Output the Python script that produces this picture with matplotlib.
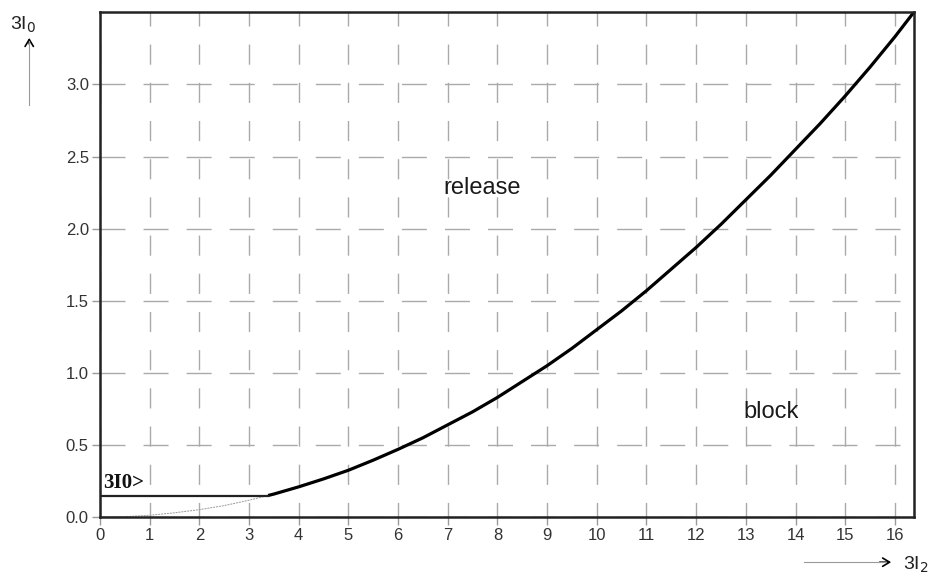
import matplotlib

matplotlib.use("Agg")
import matplotlib.pyplot as plt
from matplotlib.lines import Line2D
from matplotlib.patches import FancyArrowPatch

plt.rcParams["font.family"] = ["Liberation Sans", "DejaVu Sans"]

# characteristic curve (3I2 -> 3I0)
curve_x = [0, 0.5, 1, 1.5, 2, 2.5, 3, 3.5, 4, 4.5, 5, 5.5, 6, 6.5, 7, 7.5, 8,
           8.5, 9, 9.5, 10, 10.5, 11, 11.5, 12, 12.5, 13, 13.5, 14, 14.5, 15,
           15.5, 16, 16.38]
curve_y = [0.0, 0.003, 0.013, 0.03, 0.052, 0.08, 0.117, 0.16, 0.21, 0.265,
           0.325, 0.395, 0.47, 0.55, 0.64, 0.73, 0.83, 0.94, 1.05, 1.17, 1.3,
           1.43, 1.57, 1.72, 1.87, 2.03, 2.2, 2.37, 2.55, 2.73, 2.92, 3.12,
           3.33, 3.5]
threshold = 0.15  # 3I0> setting
x_ticks = list(range(0, 17))
y_ticks = [0.0, 0.5, 1.0, 1.5, 2.0, 2.5, 3.0]

# split where the curve rises above the threshold
for i in range(1, len(curve_x)):
    if curve_y[i] >= threshold:
        x0, x1, y0, y1 = curve_x[i - 1], curve_x[i], curve_y[i - 1], curve_y[i]
        cross = x0 + (threshold - y0) / (y1 - y0) * (x1 - x0)
        low_x = curve_x[:i] + [cross]
        low_y = curve_y[:i] + [threshold]
        high_x = [cross] + curve_x[i:]
        high_y = [threshold] + curve_y[i:]
        break

fig = plt.figure(figsize=(9.43, 5.85), dpi=100)
ax = fig.add_axes([0.106, 0.116, 0.863, 0.863])

ax.plot(low_x, low_y, color="#999999", lw=0.7, linestyle=(0, (2, 1)))
ax.plot(high_x, high_y, color="black", lw=2.3, solid_capstyle="butt")
ax.plot([0, cross], [threshold, threshold], color="#222222", lw=1.6)

ax.set_xlim(0, 16.38)
ax.set_ylim(0, 3.5)
ax.set_xticks(x_ticks)
ax.set_yticks(y_ticks)
ax.set_xticklabels([str(t) for t in x_ticks])
ax.set_yticklabels([f"{t:.1f}" for t in y_ticks])
ax.xaxis.grid(True, color="#aaaaaa", lw=1.0, linestyle=(4, (14.5, 13)))
ax.yaxis.grid(True, color="#aaaaaa", lw=1.0, linestyle=(31, (18, 13)))
ax.set_axisbelow(True)
ax.tick_params(direction="out", length=6, width=1, color="#999999",
               labelcolor="#333333", labelsize=12, pad=2)
for side in ax.spines.values():
    side.set_linewidth(1.8)
    side.set_color("#222222")

ax.text(7.7, 2.28, "release", fontsize=17, ha="center", va="center", color="#1a1a1a")
ax.text(13.5, 0.73, "block", fontsize=17, ha="center", va="center", color="#1a1a1a")
ax.text(0.06, 0.2, "3I0>", fontsize=15, fontweight="bold", family="Liberation Serif",
        ha="left", va="baseline", color="#111111")

# axis names with arrows, outside the plot area
fig.text(0.011, 0.958, "3I$_0$", fontsize=14, color="#222222", ha="left", va="center")
fig.add_artist(Line2D([0.031, 0.031], [0.82, 0.93], transform=fig.transFigure,
                      color="#999999", lw=0.8))
fig.add_artist(FancyArrowPatch((0.031, 0.92), (0.031, 0.94), transform=fig.transFigure,
                               arrowstyle="->,head_length=5,head_width=3", mutation_scale=1,
                               color="black", lw=1.2))
fig.text(0.958, 0.035, "3I$_2$", fontsize=14, color="#222222", ha="left", va="center")
fig.add_artist(Line2D([0.853, 0.94], [0.039, 0.039], transform=fig.transFigure,
                      color="#999999", lw=0.8))
fig.add_artist(FancyArrowPatch((0.93, 0.039), (0.948, 0.039), transform=fig.transFigure,
                               arrowstyle="->,head_length=5,head_width=3", mutation_scale=1,
                               color="black", lw=1.2))

fig.savefig("out.png", dpi=100)
